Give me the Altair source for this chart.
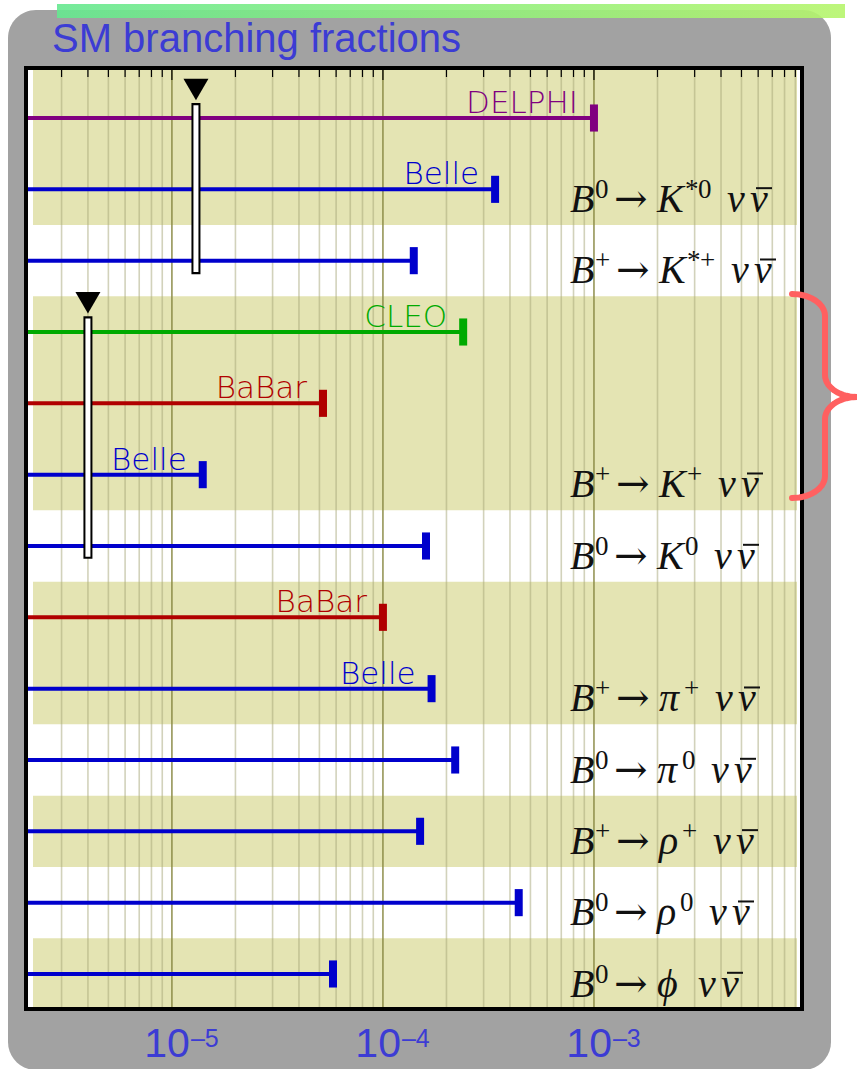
import math
import altair as alt
import pandas as pd

# ---- measurements: 90% CL upper limits on B -> h nu nubar ----
experiments = ["DELPHI", "Belle", "Belle", "CLEO", "BaBar", "Belle", "Belle",
               "BaBar", "Belle", "Belle", "Belle", "Belle", "Belle"]
limits = [1.0e-3, 3.4e-4, 1.4e-4, 2.4e-4, 5.2e-5, 1.4e-5, 1.6e-4,
          1.0e-4, 1.7e-4, 2.2e-4, 1.5e-4, 4.4e-4, 5.8e-5]
named = [True, True, False, True, True, True, False,
         True, True, False, False, False, False]

# ---- decay channels and the measurement rows belonging to each ----
channel_B_charge = ["0", "+", "+", "0", "+", "0", "+", "0", "0"]
channel_meson = ["K", "K", "K", "K", "π", "π", "ρ", "ρ", "ϕ"]
channel_meson_sup = ["*0", "*+", "+", "0", "+", "0", "+", "0", ""]
channel_rows = [[0, 1], [2], [3, 4, 5], [6], [7, 8], [9], [10], [11], [12]]

# ---- Standard Model expectations and the rows they span ----
sm_values = [1.3e-5, 4.0e-6]
sm_spans = [[-0.21, 2.19], [2.78, 6.18]]

tick_exponents = [-5, -4, -3]

experiment_colors = {"DELPHI": "#800080", "Belle": "#0000cc",
                     "CLEO": "#00aa00", "BaBar": "#b00000"}

# ---- geometry ----
W, H = 772, 937
X_MIN, X_MAX = 2.08e-6, 9.47e-3
Y_TOP, Y_BOT = -0.673, 12.463
ROW_PER_PX = (Y_BOT - Y_TOP) / H

xs = alt.Scale(type="log", domain=[X_MIN, X_MAX], nice=False)
ys = alt.Scale(domain=[Y_TOP, Y_BOT], reverse=True, nice=False, zero=False)


def px_x(px):
    return X_MIN * (X_MAX / X_MIN) ** (px / W)


def px_y(py):
    return Y_TOP + (Y_BOT - Y_TOP) * py / H


BLUE_TXT = "#3c3cd4"
KHAKI = "#e4e4b3"
INK = "#111111"
one = pd.DataFrame({"k": [0]})

# ---- tables built from the arrays above ----
meas = pd.DataFrame({
    "exp": experiments,
    "limit": limits,
    "row": list(range(len(limits))),
    "named": named,
})
meas["lo"] = X_MIN
meas["cap0"] = meas["row"] - 0.19
meas["cap1"] = meas["row"] + 0.19
labels = meas[meas["named"]]

bands = []
for g, rows in enumerate(channel_rows):
    if g % 2 == 0:
        top = Y_TOP if g == 0 else rows[0] - 0.5
        bot = Y_BOT if g == len(channel_rows) - 1 else rows[-1] + 0.5
        bands.append({"y0": top, "y1": bot})
bands = pd.DataFrame(bands)

grid = []
for k in range(-6, -1):
    for m in range(1, 10):
        v = m * 10.0 ** k
        if X_MIN < v < X_MAX:
            grid.append({"v": v, "major": m == 1})
grid = pd.DataFrame(grid)

sm = pd.DataFrame({
    "v": sm_values,
    "y0": [s[0] for s in sm_spans],
    "y1": [s[1] for s in sm_spans],
})
sm["w0"] = sm["y0"] + 0.03
sm["w1"] = sm["y1"] - 0.03
sm["tri"] = sm["y0"] - 0.19

# decay labels: typeset piece by piece (italic symbols, upright superscripts)
SUP_W = {"0": 13, "+": 15, "*": 13}
MESON_W = {"K": 28, "π": 25, "ρ": 23, "ϕ": 25}
italic, arrows, sups, bars = [], [], [], []
for i in range(len(channel_B_charge)):
    r = channel_rows[i][-1] + 0.32
    x = 542.0
    italic.append({"x": px_x(x), "row": r, "t": "B"})
    x += 25
    for ch in channel_B_charge[i]:
        sups.append({"x": px_x(x), "row": r, "t": ch})
        x += SUP_W[ch]
    x += 6
    arrows.append({"x": px_x(x), "row": r, "t": "→"})
    x += 43
    italic.append({"x": px_x(x), "row": r, "t": channel_meson[i]})
    x += MESON_W[channel_meson[i]]
    for ch in channel_meson_sup[i]:
        sups.append({"x": px_x(x), "row": r, "t": ch})
        x += SUP_W[ch]
    x += 16
    italic.append({"x": px_x(x), "row": r, "t": "ν"})
    x += 23
    italic.append({"x": px_x(x), "row": r, "t": "ν"})
    # bar over the antineutrino
    bars.append({"x0": px_x(x + 6), "x1": px_x(x + 22), "row": r - 24 * ROW_PER_PX})
italic = pd.DataFrame(italic)
arrows = pd.DataFrame(arrows)
sups = pd.DataFrame(sups)
bars = pd.DataFrame(bars)

ticks = pd.DataFrame({
    "v": [10.0 ** e for e in tick_exponents],
    "base": ["10"] * len(tick_exponents),
    "sup": ["–" + str(-e) for e in tick_exponents],
})

# curly brace next to the B+ -> K+ nu nubar group
brace = []
def arc(cx, cy, rx, ry, a0, a1, n=14):
    for j in range(n + 1):
        t = math.radians(a0 + (a1 - a0) * j / n)
        brace.append((cx + rx * math.cos(t), cy + ry * math.sin(t)))
arc(764, 246, 33, 22, -90, 0)
arc(829, 305, 32, 22, 180, 90)
arc(829, 349, 32, 22, 270, 180)
arc(764, 406, 33, 22, 0, 90)
brace = pd.DataFrame({
    "x": [px_x(p[0]) for p in brace],
    "row": [px_y(p[1]) for p in brace],
    "i": list(range(len(brace))),
})

X = lambda f: alt.X(f, scale=xs, axis=None)
Y = lambda f: alt.Y(f, scale=ys, axis=None)
color = alt.Color("exp:N", scale=alt.Scale(domain=list(experiment_colors),
                                           range=list(experiment_colors.values())),
                  legend=None)

# ---- layers ----
backdrop = alt.Chart(one).mark_rect(fill="#a2a2a2", cornerRadius=28).encode(
    x=alt.value(-20), x2=alt.value(803), y=alt.value(-60), y2=alt.value(1000))

green_bar = alt.Chart(one).mark_rect(
    opacity=0.9,
    color=alt.LinearGradient(
        gradient="linear", x1=0, x2=1, y1=0, y2=0,
        stops=[alt.GradientStop(color="#66e890", offset=0),
               alt.GradientStop(color="#b6f56c", offset=1)])
).encode(x=alt.value(29), x2=alt.value(817), y=alt.value(-66), y2=alt.value(-52))

title = alt.Chart(one).mark_text(
    text="SM branching fractions", align="left", baseline="alphabetic",
    font="Liberation Sans", fontSize=40, color=BLUE_TXT
).encode(x=alt.value(24), y=alt.value(-18))

frame = alt.Chart(one).mark_rect(fill="white", stroke="black", strokeWidth=4).encode(
    x=alt.value(-2), x2=alt.value(W + 2), y=alt.value(-2), y2=alt.value(H + 2))

band_layer = alt.Chart(bands).mark_rect(color=KHAKI).encode(
    x=alt.value(5), x2=alt.value(769), y=Y("y0:Q"), y2="y1:Q")

minor_grid = alt.Chart(grid[~grid["major"]]).mark_rule(
    color="#a6a678", opacity=0.5, strokeWidth=1.6
).encode(x=X("v:Q"), y=alt.value(0), y2=alt.value(H))
major_grid = alt.Chart(grid[grid["major"]]).mark_rule(
    color="#8a8a45", opacity=0.9, strokeWidth=1.6
).encode(x=X("v:Q"), y=alt.value(0), y2=alt.value(H))
minor_ticks = alt.Chart(grid[~grid["major"]]).mark_rule(color="black", strokeWidth=1.2).encode(
    x=X("v:Q"), y=alt.value(0), y2=alt.value(7))
major_ticks = alt.Chart(grid[grid["major"]]).mark_rule(color="black", strokeWidth=1.2).encode(
    x=X("v:Q"), y=alt.value(0), y2=alt.value(10))

lines = alt.Chart(meas).mark_rule(strokeWidth=4).encode(
    x=X("lo:Q"), x2="limit:Q", y=Y("row:Q"), color=color)
caps = alt.Chart(meas).mark_rule(strokeWidth=8).encode(
    x=X("limit:Q"), y=Y("cap0:Q"), y2="cap1:Q", color=color)

exp_labels = alt.Chart(labels).mark_text(
    align="right", baseline="alphabetic", dx=-16, dy=-5,
    font="DejaVu Sans", fontSize=31, fontWeight=300
).encode(x=X("limit:Q"), y=Y("row:Q"), text="exp:N", color=color)

sm_outer = alt.Chart(sm).mark_rule(color="black", strokeWidth=9).encode(
    x=X("v:Q"), y=Y("y0:Q"), y2="y1:Q")
sm_inner = alt.Chart(sm).mark_rule(color="white", strokeWidth=5).encode(
    x=X("v:Q"), y=Y("w0:Q"), y2="w1:Q")
sm_tri = alt.Chart(sm).mark_point(
    shape="triangle-down", filled=True, size=625, color="black", opacity=1
).encode(x=X("v:Q"), y=Y("tri:Q"))

lab_italic = alt.Chart(italic).mark_text(
    align="left", baseline="alphabetic", font="Liberation Serif",
    fontStyle="italic", fontSize=40, color=INK
).encode(x=X("x:Q"), y=Y("row:Q"), text="t:N")
lab_arrow = alt.Chart(arrows).mark_text(
    align="left", baseline="alphabetic", font="DejaVu Serif",
    fontSize=40, color=INK
).encode(x=X("x:Q"), y=Y("row:Q"), text="t:N")
lab_sup = alt.Chart(sups).mark_text(
    align="left", baseline="alphabetic", font="Liberation Serif",
    fontSize=27, dy=-14, color=INK
).encode(x=X("x:Q"), y=Y("row:Q"), text="t:N")
lab_bar = alt.Chart(bars).mark_rule(color=INK, strokeWidth=2).encode(
    x=X("x0:Q"), x2="x1:Q", y=Y("row:Q"))

tick_base = alt.Chart(ticks).mark_text(
    align="right", baseline="alphabetic", dx=18,
    font="Liberation Sans", fontSize=41, color=BLUE_TXT
).encode(x=X("v:Q"), y=alt.value(987), text="base:N")
tick_sup = alt.Chart(ticks).mark_text(
    align="left", baseline="alphabetic", dx=19,
    font="Liberation Sans", fontSize=25, color=BLUE_TXT
).encode(x=X("v:Q"), y=alt.value(977), text="sup:N")

brace_layer = alt.Chart(brace).mark_line(
    color="#ff6060", strokeWidth=6, strokeCap="round", strokeJoin="round"
).encode(x=X("x:Q"), y=Y("row:Q"), order="i:Q")

chart = alt.layer(
    backdrop, green_bar, title, frame, band_layer,
    minor_grid, major_grid, minor_ticks, major_ticks,
    lines, caps, exp_labels,
    sm_outer, sm_inner, sm_tri,
    lab_italic, lab_arrow, lab_sup, lab_bar,
    tick_base, tick_sup, brace_layer,
).properties(
    width=W, height=H,
    autosize=alt.AutoSizeParams(type="none"),
    padding={"left": 28, "top": 70, "right": 57, "bottom": 62},
    background="white",
).configure_view(stroke=None)

chart.save("out.html", embed_options={"renderer": "svg", "actions": False})
